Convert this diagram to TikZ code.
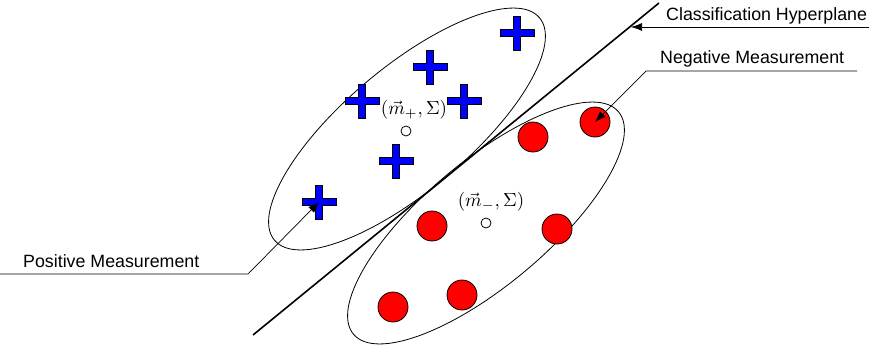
\documentclass[tikz,border=0pt]{standalone}
\usepackage{fontspec}
\setsansfont{Liberation Sans}
\usetikzlibrary{arrows.meta}

\tikzset{
    plusmark/.style={fill=blue, draw=black, line width=0.8pt},
    negdot/.style={circle, fill=red, draw=black, line width=0.8pt, minimum size=30pt, inner sep=0pt},
    meandot/.style={circle, fill=white, draw=black, line width=0.8pt, minimum size=10pt, inner sep=0pt},
    cluster/.style={draw=black, line width=0.8pt},
    callout/.style={draw=black, line width=0.7pt, -{Latex[length=11pt,width=8pt]}},
    labeltext/.style={font=\sffamily\fontsize{17.8}{20}\selectfont, anchor=base west, inner sep=0pt},
    mathtext/.style={scale=1.9, inner sep=0pt}
}

\begin{document}
\begin{tikzpicture}[
    x=1pt,
    y=-1pt
]

\useasboundingbox (0,0) rectangle (878,348);

% Clusters (same covariance)
\coordinate (cpos) at (407,129);
\coordinate (cneg) at (486,223);
\draw[cluster, rotate around={40:(cpos)}] (cpos) ellipse [x radius=173, y radius=62];
\draw[cluster, rotate around={40:(cneg)}] (cneg) ellipse [x radius=173, y radius=62];

% Hyperplane
\coordinate (hlow) at (253,335);
\coordinate (hhigh) at (659,3);
\draw[line width=1.6pt] (hlow) -- (hhigh);

% Positive measurements
\foreach \i/\x/\y in {
    1/517/33,
    2/430/67,
    3/362/101,
    4/464/101,
    5/396/161,
    6/319/202
} {
    \coordinate (p\i) at (\x,\y);
    \draw[plusmark, shift={(p\i)}]
        (-3.5,-17) -- (3.5,-17) -- (3.5,-3.5) -- (17,-3.5) -- (17,3.5)
        -- (3.5,3.5) -- (3.5,17) -- (-3.5,17) -- (-3.5,3.5) -- (-17,3.5)
        -- (-17,-3.5) -- (-3.5,-3.5) -- cycle;
}

% Negative measurements
\foreach \i/\x/\y in {
    1/533/137,
    2/595/122,
    3/432/226,
    4/557/229,
    5/393/307,
    6/462/295
} {
    \node[negdot] (n\i) at (\x,\y) {};
}

% Means
\node[meandot] (mpos) at (406,131) {};
\node[meandot] (mneg) at (486,223) {};
\node[mathtext] (lpos) at (414,110) {$(\vec{m}_{+},\Sigma)$};
\node[mathtext] (lneg) at (491,202) {$(\vec{m}_{-},\Sigma)$};

% Labels and callouts
\node[labeltext] (thyper) at (666,20) {Classification Hyperplane};
\coordinate (hend) at (869,27);
\coordinate (htip) at (631,27);
\draw[callout] (hend) -- (htip);

\node[labeltext] (tneg) at (660,63) {Negative Measurement};
\coordinate (nend) at (857,71);
\coordinate (nelbow) at (646,71);
\draw[callout] (nend) -- (nelbow) -- (n2.center);

\node[labeltext] (tpos) at (23,267) {Positive Measurement};
\coordinate (pend) at (0,274);
\coordinate (pelbow) at (248,274);
\draw[callout] (pend) -- (pelbow) -- (p6);

\end{tikzpicture}
\end{document}
